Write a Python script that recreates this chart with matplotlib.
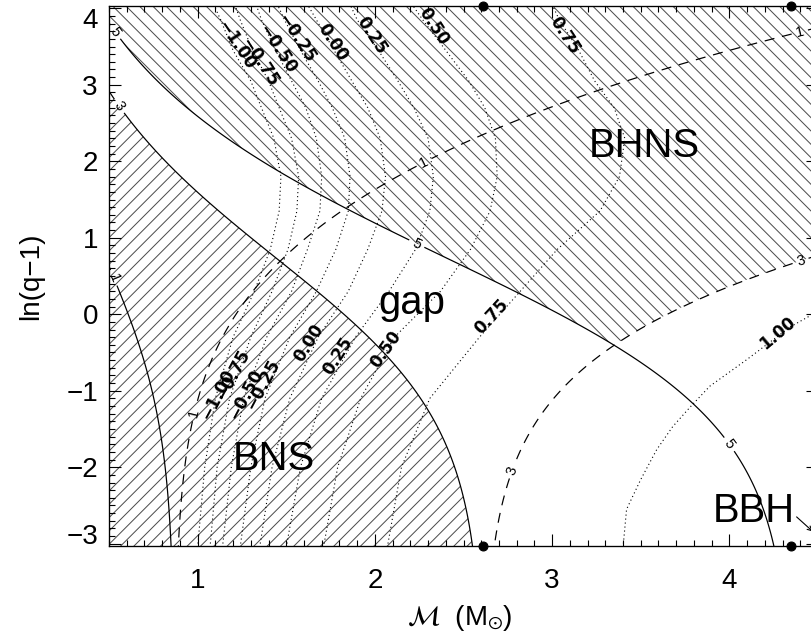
import numpy as np
import matplotlib.pyplot as plt
from matplotlib.ticker import MultipleLocator

plt.rcParams['font.family'] = ['Liberation Sans', 'DejaVu Sans']
plt.rcParams['mathtext.fontset'] = 'stixsans'
plt.rcParams['hatch.color'] = '0.3'
plt.rcParams['hatch.linewidth'] = 0.9
plt.rcParams['lines.dashed_pattern'] = [8.2, 6.4]

DPI = 80

# plot window: chirp mass (Msun) vs ln(q-1)
m_range = (0.5, 4.5)
y_range = (-3.03, 4.03)

# component-mass contours (Msun)
m1_levels = [1, 3, 5]      # primary mass, solid
m2_levels = [1, 3]         # secondary mass, dashed
ns_max = 3.0               # heaviest neutron star
bh_min = 5.0               # lightest black hole

# equal-mass chirp masses of 3 and 5 Msun
dot_M = [2.61, 4.35]

# dotted spin contours, sampled on common ln(q-1) rows
spin_rows = [-3.05, -2.0, -1.1, -0.3, 0.3, 0.85, 1.35, 1.8, 2.3, 2.7, 3.05, 3.45, 3.85, 4.05]
spin_levels = ['−1.00', '−0.75', '−0.50', '−0.25', '0.00', '0.25', '0.50', '0.75']
spin_M = [
    [1.00, 1.04, 1.10, 1.20, 1.32, 1.41, 1.46, 1.47, 1.43, 1.36, 1.30, 1.20, 1.13, 1.09],
    [1.07, 1.11, 1.18, 1.30, 1.42, 1.51, 1.56, 1.57, 1.53, 1.46, 1.40, 1.31, 1.24, 1.21],
    [1.14, 1.19, 1.26, 1.39, 1.53, 1.62, 1.69, 1.70, 1.67, 1.61, 1.53, 1.44, 1.36, 1.33],
    [1.24, 1.30, 1.38, 1.52, 1.67, 1.78, 1.85, 1.86, 1.83, 1.76, 1.68, 1.58, 1.49, 1.45],
    [1.35, 1.42, 1.52, 1.68, 1.85, 1.96, 2.04, 2.06, 2.03, 1.96, 1.87, 1.77, 1.67, 1.62],
    [1.50, 1.58, 1.70, 1.89, 2.08, 2.23, 2.31, 2.33, 2.30, 2.22, 2.13, 2.02, 1.90, 1.86],
    [1.71, 1.79, 1.92, 2.11, 2.37, 2.54, 2.65, 2.69, 2.68, 2.62, 2.53, 2.40, 2.27, 2.21],
    [2.07, 2.15, 2.31, 2.59, 2.82, 3.03, 3.27, 3.38, 3.41, 3.35, 3.24, 3.15, 3.04, 3.00],
]
# spin = 1 contour (BBH corner)
spin1_M = [3.40, 3.42, 3.50, 3.59, 3.68, 3.78, 3.89, 4.10, 4.34, 4.57]
spin1_y = [-3.05, -2.55, -2.16, -1.77, -1.47, -1.21, -0.94, -0.59, -0.17, 0.13]

# label placement for the spin contours
top_lab = [(1.22, 3.52), (1.35, 3.30), (1.45, 3.46), (1.56, 3.61),
           (1.76, 3.55), (1.98, 3.65), (2.33, 3.76), (3.07, 3.65)]
low_lab = [(1.115, -1.05), (1.20, -0.79), (1.27, -1.05), (1.37, -0.92),
           (1.63, -0.37), (1.79, -0.55), (2.06, -0.46), (2.66, -0.03)]
low_rot = [62, 62, 62, 62, 58, 58, 55, 47]

# mass grid over the window
Mg, Yg = np.meshgrid(np.linspace(0.45, 4.6, 700), np.linspace(-3.2, 4.2, 700))
q = 1.0 + np.exp(Yg)
m2 = Mg * (1.0 + q)**0.2 / q**0.6
m1 = q * m2

fig = plt.figure(figsize=(811 / DPI, 639 / DPI), dpi=DPI)
ax = fig.add_axes([109 / 811, 1 - 546 / 639, 709 / 811, 540 / 639])

# hatched populations
ax.contourf(Mg, Yg, m1, levels=[0, ns_max], colors='none', hatches=['//'])
bhns = np.minimum(m1 - bh_min, ns_max - m2)
ax.contourf(Mg, Yg, bhns, levels=[0, bhns.max()], colors='none', hatches=['\\\\'])

cs1 = ax.contour(Mg, Yg, m1, levels=m1_levels, colors='k', linewidths=1.1,
                 linestyles='solid')
cs2 = ax.contour(Mg, Yg, m2, levels=m2_levels, colors='k', linewidths=1.1,
                 linestyles='dashed')
ax.clabel(cs1, fmt='%d', fontsize=13, inline=True, inline_spacing=4,
          manual=[(0.53, 3.68), (2.24, 0.94), (4.0, -1.70),
                  (0.58, 2.76), (0.53, 0.48)])
ax.clabel(cs2, fmt='%d', fontsize=13, inline=True, inline_spacing=4,
          manual=[(2.27, 2.02), (4.39, 3.76), (0.96, -1.28),
                  (2.76, -2.03), (4.40, 0.71)])

for row in spin_M:
    ax.plot(row, spin_rows, color='k', lw=1.0, ls=(0, (1, 2.6)))
ax.plot(spin1_M, spin1_y, color='k', lw=1.0, ls=(0, (1, 2.6)))

spin_font = dict(family='DejaVu Sans', size=15, weight='bold')
for lab, (x, y) in zip(spin_levels, top_lab):
    ax.text(x, y, lab, fontdict=spin_font, rotation=-57,
            ha='center', va='center')
for lab, (x, y), rot in zip(spin_levels, low_lab, low_rot):
    ax.text(x, y, lab, fontdict=spin_font, rotation=rot,
            ha='center', va='center')
ax.text(4.27, -0.24, '1.00', fontdict=spin_font, rotation=40,
        ha='center', va='center')

# equal-mass markers on both frame edges
ax.plot(dot_M, [y_range[1]] * 2, 'ko', ms=8, clip_on=False, zorder=6)
ax.plot(dot_M, [y_range[0]] * 2, 'ko', ms=8, clip_on=False, zorder=6)

ax.text(3.52, 2.20, 'BHNS', fontsize=36, ha='center', va='center')
ax.text(2.21, 0.0, 'gap', fontsize=36, ha='center', va='baseline')
ax.text(1.43, -2.03, 'BNS', fontsize=36, ha='center', va='baseline')
ax.text(4.14, -2.72, 'BBH', fontsize=36, ha='center', va='baseline')
ax.annotate('', xy=(4.48, -2.86), xytext=(4.37, -2.63),
            arrowprops=dict(arrowstyle='->', lw=1.0, color='k'))

ax.set_xlim(*m_range)
ax.set_ylim(*y_range)
ax.set_xticks([1, 2, 3, 4])
ax.set_yticks(range(-3, 5))
ax.xaxis.set_minor_locator(MultipleLocator(0.1))
ax.yaxis.set_minor_locator(MultipleLocator(0.1))
ax.tick_params(which='both', direction='in', top=True, right=True, width=1.0)
ax.tick_params(which='major', length=11, labelsize=25)
ax.tick_params(which='minor', length=5)
ax.tick_params(axis='x', pad=20)
ax.tick_params(axis='y', pad=10)
for s in ax.spines.values():
    s.set_linewidth(1.2)

# keep the end labels inside the frame height
ylabels = ax.get_yticklabels()
ylabels[0].set_va('baseline')
ylabels[-1].set_va('top')

ax.set_xlabel(r'$\mathcal{M}$  (M$_{\odot}$)', fontsize=25)
ax.xaxis.set_label_coords(0.495, -0.105)
ax.set_ylabel('ln(q−1)', fontsize=25)
ax.yaxis.set_label_coords(-0.092, 0.5)

fig.savefig('out.png', dpi=DPI)
